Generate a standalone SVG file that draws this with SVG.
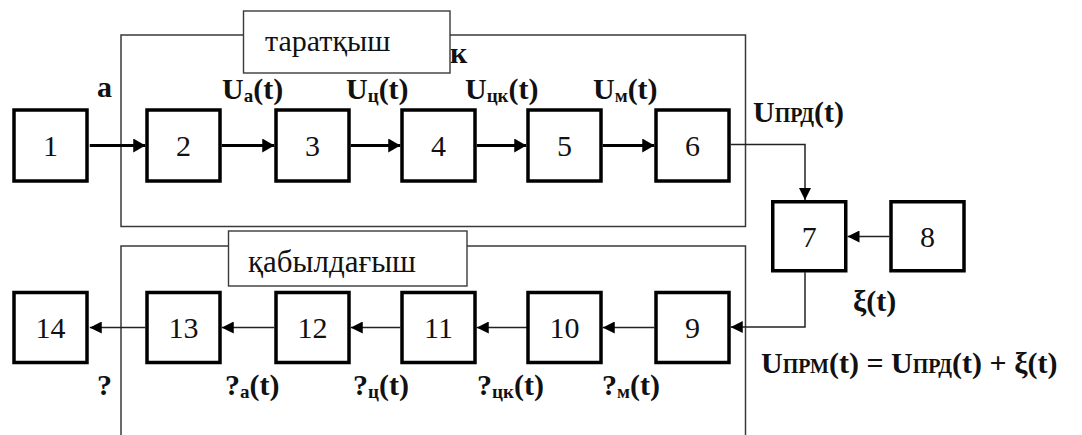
<svg xmlns="http://www.w3.org/2000/svg" width="1082" height="435" viewBox="0 0 1082 435">
  <style>
    text { font-family: 'Liberation Serif', 'Times New Roman', serif; }
    .frame { fill: none; stroke: #3a3a3a; stroke-width: 1.5; }
    .tag { fill: #fff; stroke: #3a3a3a; stroke-width: 1.4; }
    .tagtxt { font-size: 30px; fill: #111; }
    .blk rect { fill: #fff; stroke: #000; stroke-width: 3.5; }
    .blk text { font-size: 30px; fill: #111; text-anchor: middle; }
    .thick { fill: none; stroke: #000; stroke-width: 3; }
    .thin { fill: none; stroke: #222; stroke-width: 1.5; }
    .lbl { font-size: 30px; font-weight: bold; fill: #111; }
    .sub { font-size: 19px; }
    .sc { font-size: 20px; }
  </style>
  <defs>
    <marker id="ahThick" markerUnits="userSpaceOnUse" markerWidth="12" markerHeight="14" refX="12" refY="7" orient="auto">
      <path d="M0,0 L12,7 L0,14 Z" fill="#000"/>
    </marker>
    <marker id="ahThin" markerUnits="userSpaceOnUse" markerWidth="12" markerHeight="12" refX="12" refY="6" orient="auto">
      <path d="M0,0 L12,6 L0,12 Z" fill="#000"/>
    </marker>
  </defs>

  <!-- transmitter frame -->
  <g id="transmitter">
    <text class="lbl" x="450" y="63">к</text>
    <rect class="frame" x="121" y="35" width="624.5" height="191.5"/>
    <rect class="tag" x="243.5" y="11" width="206.5" height="62"/>
    <text class="tagtxt" x="265" y="51">таратқыш</text>
  </g>

  <!-- receiver frame (open at the bottom) -->
  <g id="receiver">
    <path class="frame" d="M121,435 V246 H745.5 V435"/>
    <rect class="tag" x="228.5" y="231" width="238.5" height="55"/>
    <text class="tagtxt" x="248" y="272" style="font-size:31px">қабылдағыш</text>
  </g>

  <!-- connectors -->
  <g id="connectors">
    <line class="thick" x1="89.75" y1="145.5" x2="145.25" y2="145.5" marker-end="url(#ahThick)"/>
    <line class="thick" x1="221.75" y1="145.5" x2="274.25" y2="145.5" marker-end="url(#ahThick)"/>
    <line class="thick" x1="350.75" y1="145.5" x2="400.25" y2="145.5" marker-end="url(#ahThick)"/>
    <line class="thick" x1="476.75" y1="145.5" x2="526.25" y2="145.5" marker-end="url(#ahThick)"/>
    <line class="thick" x1="602.75" y1="145.5" x2="654.25" y2="145.5" marker-end="url(#ahThick)"/>
    <path class="thin" d="M730.75,144.5 H805 V200" marker-end="url(#ahThin)"/>
    <line class="thin" x1="889.25" y1="236.5" x2="847.5" y2="236.5" marker-end="url(#ahThin)"/>
    <path class="thin" d="M805,272.25 V327 H730.75" marker-end="url(#ahThin)"/>
    <line class="thin" x1="654.25" y1="327.5" x2="602.75" y2="327.5" marker-end="url(#ahThin)"/>
    <line class="thin" x1="528.25" y1="327.5" x2="476.75" y2="327.5" marker-end="url(#ahThin)"/>
    <line class="thin" x1="400.25" y1="327.5" x2="350.75" y2="327.5" marker-end="url(#ahThin)"/>
    <line class="thin" x1="274.25" y1="327.5" x2="221.75" y2="327.5" marker-end="url(#ahThin)"/>
    <line class="thin" x1="145.25" y1="327.5" x2="89.75" y2="327.5" marker-end="url(#ahThin)"/>
  </g>

  <!-- blocks, upper chain -->
  <g id="n1" class="blk"><rect x="14" y="110" width="73" height="71"/><text x="50.5" y="156">1</text></g>
  <g id="n2" class="blk"><rect x="147" y="110" width="73" height="71"/><text x="183.5" y="156">2</text></g>
  <g id="n3" class="blk"><rect x="276" y="110" width="73" height="71"/><text x="312.5" y="156">3</text></g>
  <g id="n4" class="blk"><rect x="402" y="110" width="73" height="71"/><text x="438.5" y="156">4</text></g>
  <g id="n5" class="blk"><rect x="528" y="110" width="73" height="71"/><text x="564.5" y="156">5</text></g>
  <g id="n6" class="blk"><rect x="656" y="110" width="73" height="71"/><text x="692.5" y="156">6</text></g>

  <!-- channel and noise source -->
  <g id="n7" class="blk"><rect x="772.75" y="201.75" width="73" height="69"/><text x="809.25" y="247">7</text></g>
  <g id="n8" class="blk"><rect x="891" y="201.75" width="73" height="69"/><text x="927.5" y="247">8</text></g>

  <!-- blocks, lower chain -->
  <g id="n9" class="blk"><rect x="656" y="292.5" width="73" height="70"/><text x="692.5" y="338">9</text></g>
  <g id="n10" class="blk"><rect x="528" y="292.5" width="73" height="70"/><text x="564.5" y="338">10</text></g>
  <g id="n11" class="blk"><rect x="402" y="292.5" width="73" height="70"/><text x="438.5" y="338">11</text></g>
  <g id="n12" class="blk"><rect x="276" y="292.5" width="73" height="70"/><text x="312.5" y="338">12</text></g>
  <g id="n13" class="blk"><rect x="147" y="292.5" width="73" height="70"/><text x="183.5" y="338">13</text></g>
  <g id="n14" class="blk"><rect x="14" y="292.5" width="73" height="70"/><text x="50.5" y="338">14</text></g>

  <!-- signal labels -->
  <g id="labels">
    <text class="lbl" x="97" y="97">а</text>
    <text class="lbl" x="222" y="99">U<tspan class="sub" dy="3">а</tspan><tspan dy="-3">(t)</tspan></text>
    <text class="lbl" x="346" y="99">U<tspan class="sub" dy="3">ц</tspan><tspan dy="-3">(t)</tspan></text>
    <text class="lbl" x="465" y="99">U<tspan class="sub" dy="3">цк</tspan><tspan dy="-3">(t)</tspan></text>
    <text class="lbl" x="593" y="99">U<tspan class="sub" dy="3">м</tspan><tspan dy="-3">(t)</tspan></text>
    <text class="lbl" x="753" y="122">U<tspan class="sc">ПРД</tspan>(t)</text>
    <text class="lbl" x="853" y="311">ξ(t)</text>
    <text class="lbl" x="761" y="373">U<tspan class="sc">ПРМ</tspan>(t) = U<tspan class="sc">ПРД</tspan>(t) + ξ(t)</text>
    <text class="lbl" x="97" y="395">?</text>
    <text class="lbl" x="225" y="395">?<tspan class="sub" dy="3">а</tspan><tspan dy="-3">(t)</tspan></text>
    <text class="lbl" x="353" y="395">?<tspan class="sub" dy="3">ц</tspan><tspan dy="-3">(t)</tspan></text>
    <text class="lbl" x="477" y="395">?<tspan class="sub" dy="3">цк</tspan><tspan dy="-3">(t)</tspan></text>
    <text class="lbl" x="602" y="395">?<tspan class="sub" dy="3">м</tspan><tspan dy="-3">(t)</tspan></text>
  </g>
</svg>
